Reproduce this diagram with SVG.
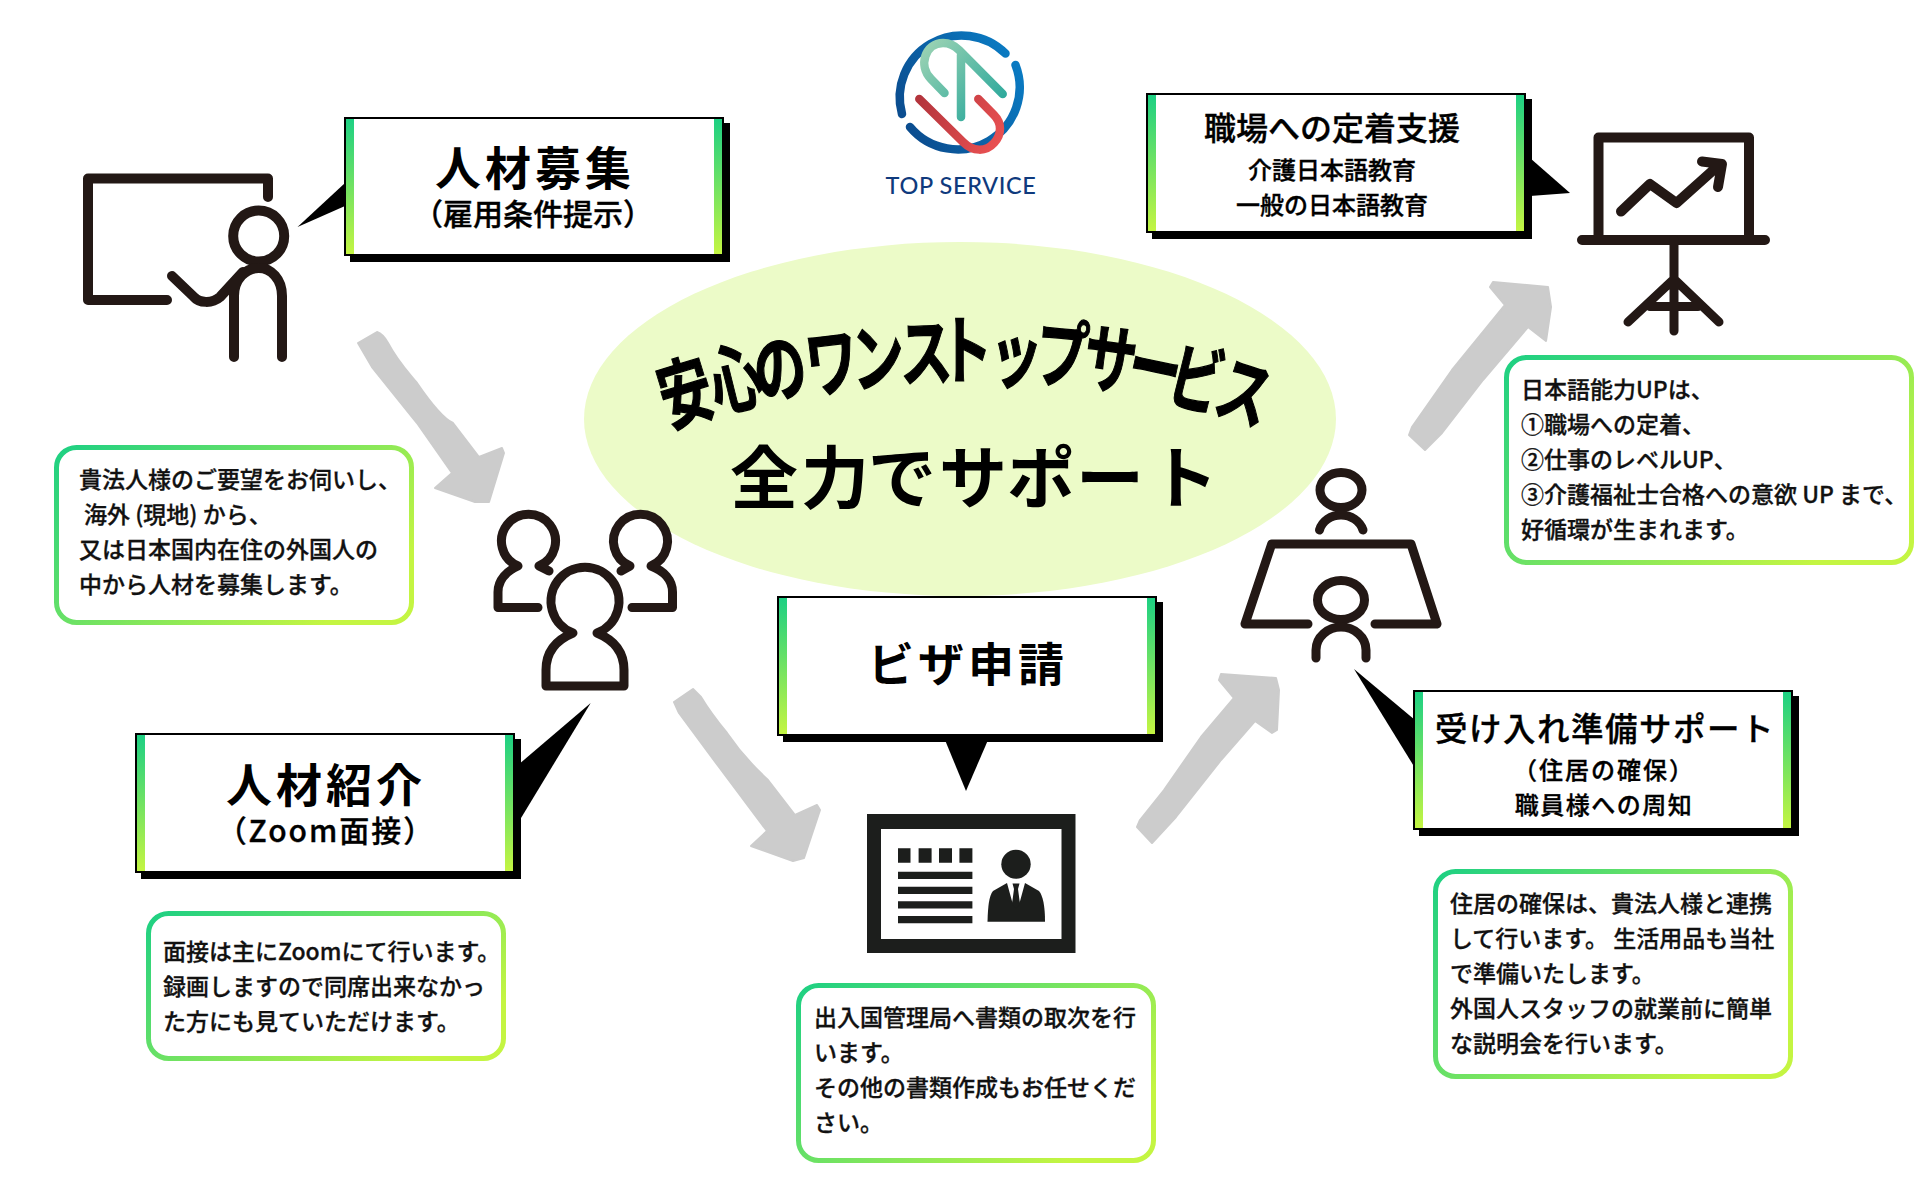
<svg xmlns="http://www.w3.org/2000/svg" width="1920" height="1200" viewBox="0 0 1920 1200">
<style>
text{font-family:"Noto Sans CJK JP","Noto Sans",sans-serif;fill:#000}
.t{text-anchor:middle;font-weight:700}
.s{text-anchor:middle;font-weight:500;stroke:#000;stroke-width:.35px}
.n{font-size:23px;font-weight:500;fill:#111;stroke:#111;stroke-width:.3px}
.h{font-size:60px;font-weight:700;text-anchor:middle;stroke:#000;stroke-width:1px}
.h2{font-size:68px;font-weight:700;text-anchor:middle}
.box{fill:#fff;stroke:#000;stroke-width:2}
.bar{fill:url(#gv)}
.note{fill:#fff;stroke:url(#gd);stroke-width:5}
.ic{fill:none;stroke:#231815;stroke-width:10;stroke-linecap:round;stroke-linejoin:round}
.icw{fill:#fff;stroke:#231815;stroke-width:9;stroke-linecap:round;stroke-linejoin:round}
.arr{fill:#cccccc;stroke:#cccccc;stroke-width:2;stroke-linejoin:round}
.card{fill:#1c1e1c}
</style>
<defs>
<linearGradient id="gv" x1="0" y1="0" x2="0" y2="1"><stop offset="0" stop-color="#1dd083"/><stop offset="1" stop-color="#c4f542"/></linearGradient>
<linearGradient id="gd" x1="0" y1="0" x2="1" y2="0.6"><stop offset="0" stop-color="#1dd083"/><stop offset="1" stop-color="#c4f542"/></linearGradient>
<linearGradient id="gring" gradientUnits="userSpaceOnUse" x1="900" y1="130" x2="1020" y2="60"><stop offset="0" stop-color="#0b4a8c"/><stop offset="1" stop-color="#0a7cc4"/></linearGradient>
<linearGradient id="gteal" gradientUnits="userSpaceOnUse" x1="925" y1="45" x2="1000" y2="115"><stop offset="0" stop-color="#9ad2b3"/><stop offset="1" stop-color="#25a69a"/></linearGradient>
<linearGradient id="gred" gradientUnits="userSpaceOnUse" x1="918" y1="100" x2="1000" y2="145"><stop offset="0" stop-color="#b3343c"/><stop offset="1" stop-color="#ea5152"/></linearGradient>
</defs>
<rect width="1920" height="1200" fill="#fff"/>

<g id="center">
<ellipse cx="960" cy="419" rx="376" ry="177" fill="#ecfbc8"/>
<g>
<text class="h" transform="translate(686,394) rotate(-17) scale(.88,1.25)" y="21">安</text>
<text class="h" transform="translate(736,380) rotate(-14) scale(.88,1.25)" y="21">心</text>
<text class="h" transform="translate(780,370) rotate(-10) scale(.88,1.25)" y="21">の</text>
<text class="h" transform="translate(832,364) rotate(-7) scale(.88,1.25)" y="21">ワ</text>
<text class="h" transform="translate(878,359) rotate(-4) scale(.88,1.25)" y="21">ン</text>
<text class="h" transform="translate(926,354) rotate(-2) scale(.88,1.25)" y="21">ス</text>
<text class="h" transform="translate(966,352) rotate(0) scale(.88,1.25)" y="21">ト</text>
<text class="h" transform="translate(1016,356) rotate(4) scale(.88,1.25)" y="21">ッ</text>
<text class="h" transform="translate(1062,356) rotate(5) scale(.88,1.25)" y="21">プ</text>
<text class="h" transform="translate(1110,361) rotate(8) scale(.88,1.25)" y="21">サ</text>
<text class="h" transform="translate(1155,369) rotate(12) scale(.88,1.25)" y="21">ー</text>
<text class="h" transform="translate(1196,381) rotate(14) scale(.88,1.25)" y="21">ビ</text>
<text class="h" transform="translate(1244,394) rotate(18) scale(.88,1.25)" y="21">ス</text>
</g>
<text class="h2" x="764 835 902 973 1041 1110 1184" y="503">全力でサポート</text>
</g>

<g id="connectors">
<path class="arr" d="M358 343 L377 332 Q383 334 388 343 C398 362 408 372 417 383 C430 402 442 418 453 423 L479 457 L502 448 L504 453 L489 502 L475 502 L435 488 L452 473 L417 423 L372 367 Z"/>
<path class="arr" d="M674 702 L693 689 L701 697 C710 712 718 722 727 733 C742 755 755 768 768 780 L795 815 L817 805 L820 810 L804 858 L793 861 L751 846 L767 831 L719 767 L679 713 Z"/>
<path class="arr" d="M1137 827 L1152 843 L1176 817 L1221 760 L1255 721 L1272 733 L1277 730 L1279 690 L1276 678 L1221 674 L1219 680 L1234 698 L1201 737 L1164 790 L1140 820 Z"/>
<path class="arr" d="M1409 435 L1425 450 L1442 433 L1483 380 L1528 327 L1546 341 L1551 307 L1548 287 L1493 282 L1490 287 L1505 305 L1452 370 L1412 427 Z"/>
</g>

<g id="logo">
<path d="M902 114 A62 62 0 0 1 1005.500 53.500" fill="none" stroke="url(#gring)" stroke-width="8.500" stroke-linecap="round"/>
<path d="M1015.500 65 A62 62 0 0 1 910 127" fill="none" stroke="url(#gring)" stroke-width="8.500" stroke-linecap="round"/>
<path d="M919.300 99 L963 142 C973 152 986 152 994 143 C1002 134 1002 123 994 115 L978.300 99" fill="none" stroke="url(#gred)" stroke-width="8.500" stroke-linecap="round"/>
<path d="M944.500 93 L931 79 C918 66 925 43 943 43 C951 43 956 47 959 50 L1002.700 94 M961 55 V117" fill="none" stroke="url(#gteal)" stroke-width="8.500" stroke-linecap="round"/>
<text x="961" y="194" text-anchor="middle" style="font-family:Lato,'Open Sans',sans-serif;font-size:23.500px;font-weight:500;fill:#0f3a7d;letter-spacing:.6px">TOP SERVICE</text>
</g>

<g id="teacher-icon">
<path class="ic" d="M268 197 V178.500 H88 V300 H167"/>
<circle class="ic" cx="258.700" cy="236" r="25.500"/>
<path class="ic" d="M172 276 L194 297 C199 303 212 304 220 297 L243 272 M234 357 V296 C234 279 246 268 258.700 268 C271 268 282 279 282 296 V357"/>
</g>

<g id="group-icon">
<path class="icw" d="M538 607.500 H498 V592 C498 580 507 571 518 566 A27 27 0 1 1 539 566 L549 571"/>
<path class="icw" d="M632 607.500 H672.500 V592 C672.500 580 664 571 651 566 A27 27 0 1 0 630 566 L621 571"/>
<path class="icw" d="M573 633 C556 640 546 652 546 670 V686 H624 V670 C624 652 614 640 597 633 A34 34 0 1 0 573 633 Z"/>
</g>

<g id="card-icon">
<rect class="card" x="867" y="814" width="208.500" height="139"/>
<rect x="881" y="829" width="180.500" height="110" fill="#fff"/>
<path class="card" d="M898 848.300h12.500v14.400h-12.500zM918.600 848.300h13v14.400h-13zM939 848.300h13v14.400h-13zM959.400 848.300h13v14.400h-13zM898 871.700h74.400v7.300h-74.400zM898 886.700h74.400v7.300h-74.400zM898 901.300h74.400v7.300h-74.400zM898 916h74.400v7.300h-74.400z"/>
<ellipse class="card" cx="1016" cy="864.300" rx="14.700" ry="14.500"/>
<path class="card" d="M987.500 921.700 C988 906 989 896 993 891 L1007 883 H1025 L1039 891 C1043 896 1045 906 1045 921.700 Z"/>
<path d="M1007 883 L1012.500 903 L1016 884 L1019.500 903 L1025 883 Z" fill="#fff"/>
<path class="card" d="M1012.500 883.500 H1019.500 L1018 889 L1020 904 L1016 909 L1012 904 L1014 889 Z"/>
</g>

<g id="chart-icon">
<path class="ic" d="M1598.500 240 V137.500 H1749 V240 M1582 240 H1765"/>
<path class="ic" style="stroke-width:9" d="M1674 240 V331 M1674 279 L1628 322 M1674 279 L1719 322 M1650 306.500 H1698"/>
<path class="ic" d="M1621 211.500 L1650 184 L1676.500 203 L1719 165 M1702 161.500 L1722 164 L1718 187"/>
</g>

<g id="table-icon">
<ellipse class="icw" cx="1341" cy="490" rx="21" ry="17.500"/>
<path class="ic" style="stroke-width:9" d="M1319.500 530 C1322 521 1331 515 1341 515 C1351 515 1360 521 1363 530"/>
<path class="ic" style="stroke-width:9" d="M1308 624 H1245 L1271.700 544 H1411 L1437 624 H1375"/>
<ellipse class="ic" style="stroke-width:9" cx="1341" cy="600" rx="23.500" ry="19.500"/>
<path class="ic" style="stroke-width:9" d="M1316 658 V650 C1316 637 1328 627 1341 627 C1354 627 1366 637 1366 650 V658"/>
</g>

<g id="box-recruit">
<polygon points="297.500,227 345,183 345,206"/>
<rect x="350" y="123" width="380" height="139"/>
<rect class="box" x="345" y="118" width="378" height="137"/>
<rect class="bar" x="346" y="119" width="8" height="135"/><rect class="bar" x="714" y="119" width="8" height="135"/>
<text class="t" x="535" y="185" style="font-size:46px;letter-spacing:4px">人材募集</text>
<text class="s" x="533" y="225" style="font-size:30px">（雇用条件提示）</text>
</g>

<g id="box-intro">
<polygon points="590.700,703 518,765 518,823"/>
<rect x="141" y="739" width="380" height="140"/>
<rect class="box" x="136" y="734" width="378" height="138"/>
<rect class="bar" x="137" y="735" width="8" height="136"/><rect class="bar" x="505" y="735" width="8" height="136"/>
<text class="t" x="326" y="802" style="font-size:46px;letter-spacing:4px">人材紹介</text>
<text class="s" x="326" y="842" style="font-size:30px;letter-spacing:2px">（Zoom面接）</text>
</g>

<g id="box-visa">
<polygon points="945,740 988,740 966,791"/>
<rect x="783" y="602" width="380" height="140"/>
<rect class="box" x="778" y="597" width="378" height="138"/>
<rect class="bar" x="779" y="598" width="8" height="136"/><rect class="bar" x="1147" y="598" width="8" height="136"/>
<text class="t" x="968" y="681" style="font-size:46px;letter-spacing:4px">ビザ申請</text>
</g>

<g id="box-prepare">
<polygon points="1354,669 1415,720 1415,768"/>
<rect x="1419" y="696" width="380" height="140"/>
<rect class="box" x="1414" y="691" width="378" height="138"/>
<rect class="bar" x="1415" y="692" width="8" height="136"/><rect class="bar" x="1783" y="692" width="8" height="136"/>
<text class="s" x="1605" y="741" style="font-size:32.500px;letter-spacing:1.500px">受け入れ準備サポート</text>
<text class="s" x="1604" y="779" style="font-size:24px;letter-spacing:2px">（住居の確保）</text>
<text class="s" x="1604" y="814" style="font-size:24px;letter-spacing:1.500px">職員様への周知</text>
</g>

<g id="box-support">
<polygon points="1530,158 1570,193 1530,196"/>
<rect x="1152" y="99" width="380" height="140"/>
<rect class="box" x="1147" y="94" width="378" height="138"/>
<rect class="bar" x="1148" y="95" width="8" height="136"/><rect class="bar" x="1516" y="95" width="8" height="136"/>
<text class="s" x="1332" y="140" style="font-size:32px">職場への定着支援</text>
<text class="s" x="1332" y="179" style="font-size:24px">介護日本語教育</text>
<text class="s" x="1332" y="214" style="font-size:24px">一般の日本語教育</text>
</g>

<g id="note-recruit">
<rect class="note" x="56.500" y="447.500" width="355" height="175" rx="20"/>
<text class="n" x="79" y="488">貴法人様のご要望をお伺いし、</text>
<text class="n" x="84" y="523">海外 (現地) から、</text>
<text class="n" x="79" y="558">又は日本国内在住の外国人の</text>
<text class="n" x="79" y="593">中から人材を募集します。</text>
</g>
<g id="note-intro">
<rect class="note" x="148.500" y="913.500" width="355" height="145" rx="20"/>
<text class="n" x="163" y="960">面接は主にZoomにて行います。</text>
<text class="n" x="163" y="995">録画しますので同席出来なかっ</text>
<text class="n" x="163" y="1030">た方にも見ていただけます。</text>
</g>
<g id="note-visa">
<rect class="note" x="798.500" y="985.500" width="355" height="175" rx="20"/>
<text class="n" x="814" y="1026">出入国管理局へ書類の取次を行</text>
<text class="n" x="814" y="1061">います。</text>
<text class="n" x="814" y="1096">その他の書類作成もお任せくだ</text>
<text class="n" x="814" y="1131">さい。</text>
</g>
<g id="note-prepare">
<rect class="note" x="1435.500" y="871.500" width="355" height="205" rx="20"/>
<text class="n" x="1450" y="912">住居の確保は、貴法人様と連携</text>
<text class="n" x="1450" y="947">して行います。 生活用品も当社</text>
<text class="n" x="1450" y="982">で準備いたします。</text>
<text class="n" x="1450" y="1017">外国人スタッフの就業前に簡単</text>
<text class="n" x="1450" y="1052">な説明会を行います。</text>
</g>
<g id="note-support">
<rect class="note" x="1506.500" y="357.500" width="405" height="205" rx="20"/>
<text class="n" x="1521" y="398">日本語能力UPは、</text>
<text class="n" x="1521" y="433">①職場への定着、</text>
<text class="n" x="1521" y="468">②仕事のレベルUP、</text>
<text class="n" x="1521" y="503">③介護福祉士合格への意欲 UP まで、</text>
<text class="n" x="1521" y="538">好循環が生まれます。</text>
</g>
</svg>
